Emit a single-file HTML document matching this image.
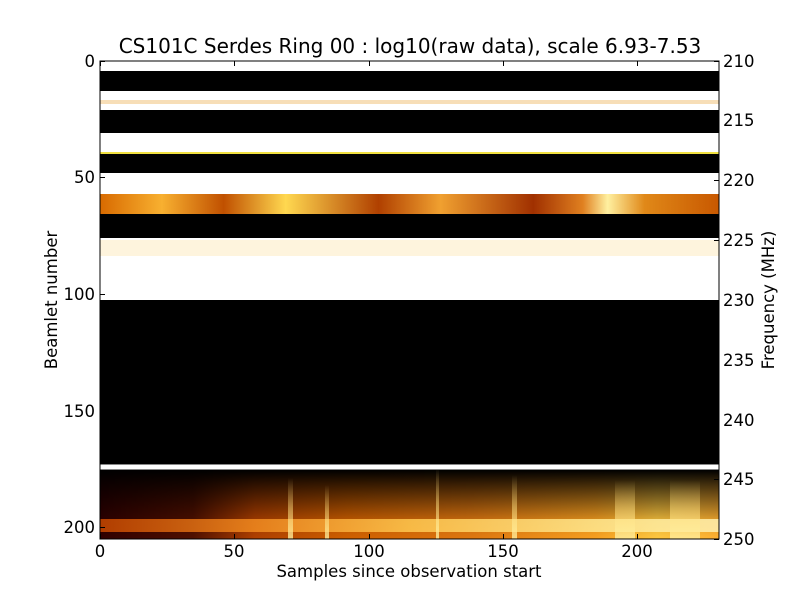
<!DOCTYPE html>
<html><head><meta charset="utf-8"><style>body{margin:0;background:#fff}svg{display:block}</style></head><body>
<svg width="800" height="600" viewBox="0 0 800 600" xmlns="http://www.w3.org/2000/svg" font-family="DejaVu Sans, Liberation Sans, sans-serif">
<defs>
<linearGradient id="g1" x1="0" x2="1">
<stop offset="0" stop-color="#d86a00"/><stop offset=".1" stop-color="#f8b030"/><stop offset=".2" stop-color="#c05000"/><stop offset=".3" stop-color="#ffd850"/><stop offset=".45" stop-color="#b04000"/><stop offset=".55" stop-color="#f0a030"/><stop offset=".7" stop-color="#a03000"/><stop offset=".78" stop-color="#e08020"/><stop offset=".82" stop-color="#fff0a0"/><stop offset=".88" stop-color="#e08818"/><stop offset="1" stop-color="#c85800"/>
</linearGradient>
<linearGradient id="bh" x1="0" x2="1">
<stop offset="0" stop-color="#300000"/><stop offset=".15" stop-color="#501000"/><stop offset=".25" stop-color="#b04000"/><stop offset=".4" stop-color="#d06000"/><stop offset=".6" stop-color="#e07810"/><stop offset=".8" stop-color="#f8a020"/><stop offset=".9" stop-color="#ffc840"/><stop offset="1" stop-color="#ffb030"/>
</linearGradient>
<linearGradient id="fade" x1="0" y1="0" x2="0" y2="1">
<stop offset="0" stop-color="#000" stop-opacity="1"/><stop offset=".2" stop-color="#000" stop-opacity=".75"/><stop offset=".75" stop-color="#000" stop-opacity=".1"/><stop offset="1" stop-color="#000" stop-opacity="0"/>
</linearGradient>
<linearGradient id="band" x1="0" x2="1">
<stop offset="0" stop-color="#c84800"/><stop offset=".25" stop-color="#f08a20"/><stop offset=".5" stop-color="#ffc850"/><stop offset=".8" stop-color="#ffe890"/><stop offset="1" stop-color="#fff0b0"/>
</linearGradient>
<linearGradient id="st" x1="0" y1="0" x2="0" y2="1">
<stop offset="0" stop-color="#ffe080" stop-opacity="0"/><stop offset=".5" stop-color="#ffe080" stop-opacity=".5"/><stop offset="1" stop-color="#fff0a0" stop-opacity=".8"/>
</linearGradient>
</defs>
<text x="410" y="53" font-size="20" text-anchor="middle">CS101C Serdes Ring 00 : log10(raw data), scale 6.93-7.53</text>
<g>
<rect x="100" y="61" width="619" height="478" fill="#000"/>
<rect x="100" y="61" width="619" height="10" fill="#fff"/>
<rect x="100" y="91" width="619" height="19" fill="#fff"/>
<rect x="100" y="100" width="619" height="4" fill="#e8a030" opacity=".35"/>
<rect x="100" y="133" width="619" height="21" fill="#fff"/>
<rect x="100" y="152" width="619" height="2" fill="#f0e040"/>
<rect x="100" y="173" width="619" height="21" fill="#fff"/>
<rect x="100" y="194" width="619" height="20" fill="url(#g1)"/>
<rect x="100" y="238" width="619" height="62" fill="#fff"/>
<rect x="100" y="240" width="619" height="16" fill="#f8c040" opacity=".18"/>
<rect x="100" y="470" width="619" height="69" fill="url(#bh)"/>
<rect x="100" y="470" width="619" height="69" fill="url(#fade)"/>
<rect x="100" y="519" width="619" height="13" fill="url(#band)" opacity=".85"/>
<g fill="url(#st)">
<rect x="288" y="478" width="5" height="61"/><rect x="325" y="485" width="4" height="54"/><rect x="436" y="468" width="3" height="71"/><rect x="512" y="475" width="5" height="64"/><rect x="615" y="480" width="20" height="59"/><rect x="670" y="480" width="30" height="59"/>
</g>
<rect x="100" y="464" width="619" height="6" fill="#888"/>
<rect x="100" y="465" width="619" height="4" fill="#fff"/>
</g>
<rect x="100" y="61" width="619" height="478" fill="none" stroke="#000" stroke-width="1"/>
<g stroke="#000" stroke-width="1">
<path d="M100.5 539v-5M234.5 539v-5M369.5 539v-5M503.5 539v-5M637.5 539v-5M100.5 61v5M234.5 61v5M369.5 61v5M503.5 61v5M637.5 61v5"/>
<path d="M100 61.5h5M100 177.5h5M100 294.5h5M100 411.5h5M100 527.5h5"/>
<path d="M719 61.5h-5M719 120.5h-5M719 180.5h-5M719 240.5h-5M719 300.5h-5M719 360.5h-5M719 420.5h-5M719 479.5h-5M719 539.5h-5"/>
</g>
<g font-size="16.5" text-anchor="middle">
<text x="100" y="557">0</text><text x="234" y="557">50</text><text x="369" y="557">100</text><text x="503" y="557">150</text><text x="637" y="557">200</text>
<text x="409" y="577">Samples since observation start</text>
</g>
<g font-size="16.5" text-anchor="end">
<text x="95" y="67">0</text><text x="95" y="183">50</text><text x="95" y="300">100</text><text x="95" y="417">150</text><text x="95" y="533">200</text>
</g>
<g font-size="16.5">
<text x="723" y="67">210</text><text x="723" y="126">215</text><text x="723" y="186">220</text><text x="723" y="246">225</text><text x="723" y="306">230</text><text x="723" y="366">235</text><text x="723" y="426">240</text><text x="723" y="485">245</text><text x="723" y="545">250</text>
</g>
<text transform="translate(57 300) rotate(-90)" font-size="16.5" text-anchor="middle">Beamlet number</text>
<text transform="translate(774 300) rotate(-90)" font-size="16.5" text-anchor="middle">Frequency (MHz)</text>
</svg>
</body></html>
